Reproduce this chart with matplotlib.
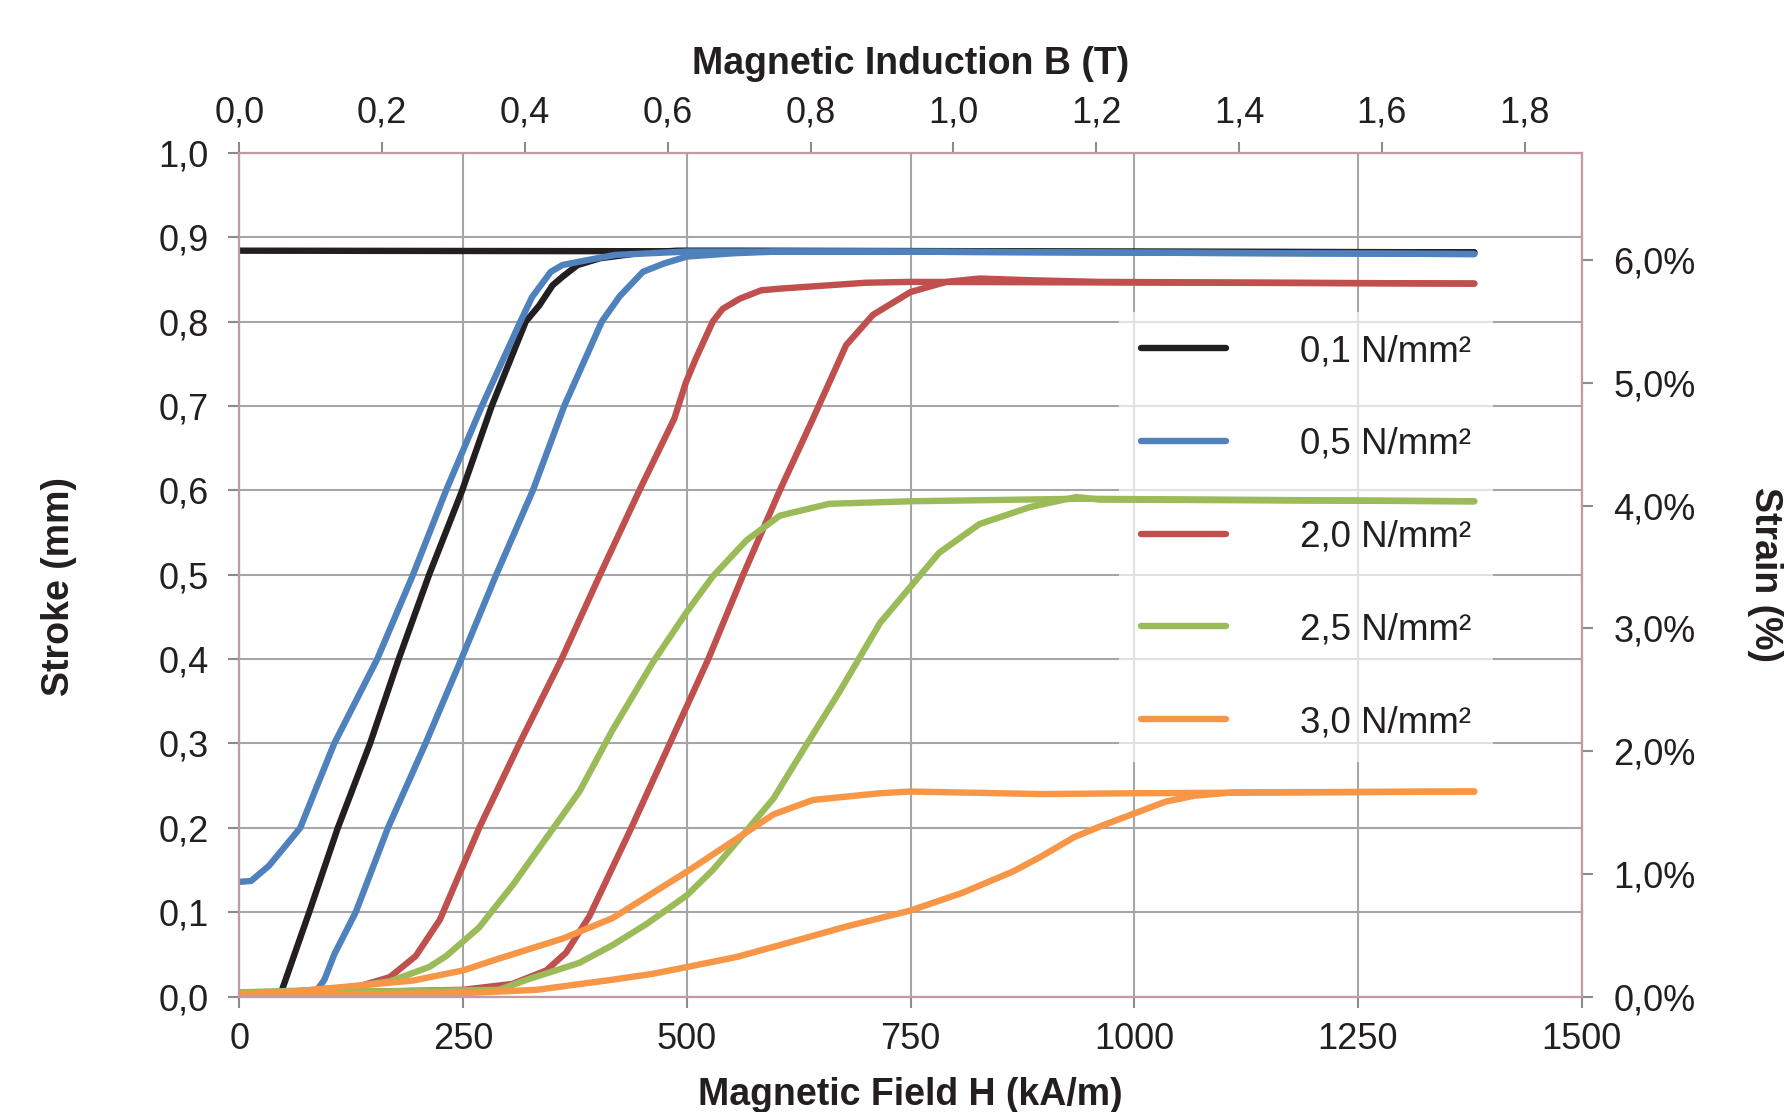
import matplotlib
matplotlib.use("Agg")
import matplotlib.pyplot as plt
from matplotlib.ticker import FuncFormatter

plt.rcParams['font.family'] = ['Liberation Sans', 'DejaVu Sans']

# --- data: H in kA/m, stroke in mm ---
labels = ["0,1 N/mm²", "0,5 N/mm²", "2,0 N/mm²", "2,5 N/mm²", "3,0 N/mm²"]
colors = ["#231f20", "#4f81bd", "#c0504d", "#9bbb59", "#f79646"]

# 0,1 N/mm²
h_01_up = [0, 45, 78, 110, 146, 178, 212, 249, 282, 320, 335, 350, 361, 378, 403, 446, 489, 560, 1380]
s_01_up = [0.0, 0.0, 0.1, 0.2, 0.3, 0.4, 0.5, 0.6, 0.7, 0.8, 0.819, 0.843, 0.853, 0.867, 0.875, 0.881, 0.884, 0.884, 0.882]
h_01_dn = [1380, 0]
s_01_dn = [0.882, 0.884]

# 0,5 N/mm²
h_05_up = [0, 50, 85, 95, 106, 130, 166, 208, 248, 287, 328, 363, 405, 425, 451, 475, 500, 553, 603, 700, 1380]
s_05_up = [0.0, 0.0, 0.005, 0.02, 0.05, 0.1, 0.2, 0.3, 0.4, 0.5, 0.6, 0.7, 0.8, 0.83, 0.859, 0.869, 0.877, 0.881, 0.883, 0.883, 0.880]
h_05_dn = [1380, 700, 500, 420, 380, 361, 348, 327, 314, 271, 231, 194, 154, 106, 85, 68, 51, 33, 13, 0]
s_05_dn = [0.880, 0.883, 0.883, 0.879, 0.871, 0.867, 0.859, 0.829, 0.8, 0.7, 0.6, 0.5, 0.4, 0.3, 0.245, 0.2, 0.178, 0.155, 0.137, 0.136]

# 2,0 N/mm²
h_20_up = [0, 150, 250, 305, 343, 365, 391, 438, 481, 524, 563, 604, 641, 678, 708, 750, 790, 827, 883, 961, 1380]
s_20_up = [0.004, 0.006, 0.008, 0.015, 0.031, 0.052, 0.095, 0.2, 0.3, 0.4, 0.5, 0.6, 0.685, 0.772, 0.808, 0.835, 0.847, 0.851, 0.849, 0.847, 0.845]
h_20_dn = [1380, 750, 700, 604, 583, 559, 540, 529, 510, 499, 486, 447, 403, 360, 313, 268, 224, 197, 168, 133, 60, 0]
s_20_dn = [0.845, 0.847, 0.846, 0.839, 0.837, 0.827, 0.815, 0.8, 0.756, 0.728, 0.685, 0.6, 0.5, 0.4, 0.3, 0.2, 0.091, 0.048, 0.023, 0.012, 0.006, 0.004]

# 2,5 N/mm²
h_25_up = [0, 150, 290, 324, 380, 417, 455, 500, 529, 567, 597, 634, 671, 716, 782, 827, 883, 935, 961, 1380]
s_25_up = [0.005, 0.006, 0.008, 0.021, 0.040, 0.061, 0.086, 0.120, 0.150, 0.197, 0.235, 0.299, 0.362, 0.443, 0.526, 0.56, 0.58, 0.592, 0.589, 0.587]
h_25_dn = [1380, 939, 750, 659, 604, 567, 529, 500, 462, 417, 380, 343, 306, 268, 231, 212, 168, 100, 0]
s_25_dn = [0.587, 0.590, 0.587, 0.584, 0.570, 0.541, 0.498, 0.456, 0.396, 0.316, 0.243, 0.188, 0.133, 0.082, 0.048, 0.035, 0.018, 0.008, 0.005]

# 3,0 N/mm²
h_30_up = [0, 150, 250, 332, 417, 462, 500, 556, 604, 631, 678, 716, 750, 808, 864, 896, 933, 965, 1000, 1035, 1067, 1110, 1380]
s_30_up = [0.002, 0.003, 0.004, 0.008, 0.02, 0.027, 0.035, 0.047, 0.061, 0.069, 0.083, 0.093, 0.102, 0.123, 0.148, 0.166, 0.189, 0.203, 0.217, 0.231, 0.238, 0.242, 0.243]
h_30_dn = [1380, 1003, 896, 750, 716, 641, 597, 567, 500, 417, 362, 287, 250, 194, 133, 60, 0]
s_30_dn = [0.243, 0.241, 0.240, 0.243, 0.241, 0.233, 0.216, 0.195, 0.148, 0.093, 0.069, 0.044, 0.031, 0.019, 0.013, 0.006, 0.003]

series = [
    (h_01_up, s_01_up, h_01_dn, s_01_dn),
    (h_05_up, s_05_up, h_05_dn, s_05_dn),
    (h_20_up, s_20_up, h_20_dn, s_20_dn),
    (h_25_up, s_25_up, h_25_dn, s_25_dn),
    (h_30_up, s_30_up, h_30_dn, s_30_dn),
]

h_ticks = [0, 250, 500, 750, 1000, 1250, 1500]
stroke_ticks = [0.0, 0.1, 0.2, 0.3, 0.4, 0.5, 0.6, 0.7, 0.8, 0.9, 1.0]
b_ticks = [0.0, 0.2, 0.4, 0.6, 0.8, 1.0, 1.2, 1.4, 1.6, 1.8]
strain_ticks = [0, 1, 2, 3, 4, 5, 6]

SPINE = '#c49aa0'
TICK = '#8c8c8c'
GRID = '#a6a6a6'
TXT = '#231f20'
FS = 26
LFS = 27
LW = 4.6

fig = plt.figure(figsize=(17.88, 11.12), dpi=100)
ax = fig.add_axes([0.1339, 0.1038, 0.8846 - 0.1339, 0.8626 - 0.1038])

for (hu, su, hd, sd), c, lab in zip(series, colors, labels):
    ax.plot(hu, su, color=c, lw=LW, solid_capstyle='round', solid_joinstyle='round', label=lab)
    ax.plot(hd, sd, color=c, lw=LW, solid_capstyle='round', solid_joinstyle='round')

ax.set_xlim(0, 1500)
ax.set_ylim(0, 1.0)
ax.set_xticks(h_ticks)
ax.set_yticks(stroke_ticks)
ax.yaxis.set_major_formatter(FuncFormatter(lambda v, p: f'{v:.1f}'.replace('.', ',')))
ax.set_axisbelow(True)
ax.grid(True, color=GRID, lw=1.5)
ax.tick_params(axis='y', direction='out', length=8, width=1.5, color=TICK,
               labelsize=FS, labelcolor=TXT, pad=14)
ax.tick_params(axis='x', direction='out', length=8, width=1.5, color=TICK,
               labelsize=FS, labelcolor=TXT, pad=10)

ax.set_xlabel('Magnetic Field H (kA/m)', fontsize=LFS, fontweight='bold', color=TXT)
ax.xaxis.label.set_va('center')
ax.xaxis.set_label_coords(0.5, -0.117)
ax.set_ylabel('Stroke (mm)', fontsize=LFS, fontweight='bold', color=TXT)
ax.yaxis.label.set_va('center')
ax.yaxis.set_label_coords(-0.1345, 0.486)

# top axis: magnetic induction
ax_top = ax.twiny()
ax_top.set_xlim(0, 1.88)
ax_top.set_xticks(b_ticks)
ax_top.xaxis.set_major_formatter(FuncFormatter(lambda v, p: f'{v:.1f}'.replace('.', ',')))
ax_top.tick_params(axis='x', direction='out', length=8, width=1.5, color=TICK,
                   labelsize=FS, labelcolor=TXT, pad=8)
ax_top.set_xlabel('Magnetic Induction B (T)', fontsize=LFS, fontweight='bold', color=TXT)
ax_top.xaxis.label.set_va('center')
ax_top.xaxis.set_label_coords(0.5, 1.1055)

# right axis: strain
ax_r = ax.twinx()
ax_r.set_ylim(0, 6.873)
ax_r.set_yticks(strain_ticks)
ax_r.yaxis.set_major_formatter(FuncFormatter(lambda v, p: f'{v:.1f}%'.replace('.', ',')))
ax_r.tick_params(axis='y', direction='out', length=8, width=1.5, color=TICK,
                 labelsize=FS, labelcolor=TXT, pad=15)
ax_r.set_ylabel('Strain (%)', fontsize=LFS, fontweight='bold', color=TXT, rotation=270)
ax_r.yaxis.label.set_va('center')
ax_r.yaxis.label.set_ha('center')
ax_r.yaxis.set_label_coords(1.1367, 0.5)

for a in (ax, ax_top, ax_r):
    for sp in a.spines.values():
        sp.set_color(SPINE)
        sp.set_linewidth(1.5)

leg = ax.legend(loc='center left', bbox_to_anchor=(0.626, 0.517), bbox_transform=fig.transFigure,
                fontsize=26.5, frameon=True, framealpha=0.67, facecolor='white', edgecolor='none',
                fancybox=False, borderaxespad=0, borderpad=0.6, handlelength=2.3,
                handletextpad=2.0, labelspacing=1.57)
for t in leg.get_texts():
    t.set_color(TXT)
leg.set_zorder(1.5)

fig.savefig('out.png', dpi=100)
